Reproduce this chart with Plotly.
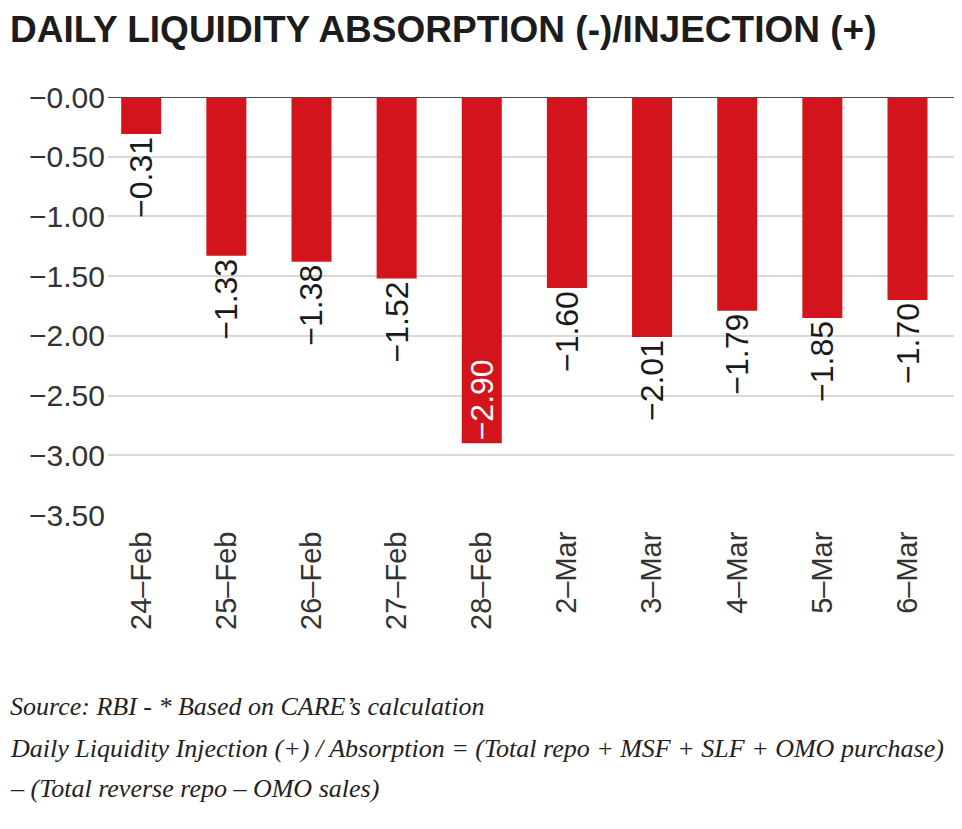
import plotly.graph_objects as go

categories = ["24–Feb", "25–Feb", "26–Feb", "27–Feb", "28–Feb",
              "2–Mar", "3–Mar", "4–Mar", "5–Mar", "6–Mar"]
values = [-0.31, -1.33, -1.38, -1.52, -2.90, -1.60, -2.01, -1.79, -1.85, -1.70]
y_tickvals = [0, -0.5, -1.0, -1.5, -2.0, -2.5, -3.0, -3.5]
y_ticktext = ["−0.00", "−0.50", "−1.00", "−1.50", "−2.00", "−2.50", "−3.00", "−3.50"]

title_text = "DAILY LIQUIDITY ABSORPTION (-)/INJECTION (+)"
note_lines = [
    "Source: RBI - * Based on CARE’s calculation",
    "Daily Liquidity Injection (+) / Absorption = (Total repo + MSF + SLF + OMO purchase)",
    "– (Total reverse repo – OMO sales)",
]

label_text = [f"{v:.2f}".replace("-", "−") for v in values]
inside_idx = values.index(min(values))
positions = ["inside" if i == inside_idx else "outside" for i in range(len(values))]

SANS = "Liberation Sans, Arial, sans-serif"

# The page body adds an 8px offset, so the figure is 8px smaller than the window.
W, H = 954, 821
L, T, B = 100, 89, 314

fig = go.Figure()
fig.add_trace(go.Bar(
    x=list(range(len(categories))),
    y=values,
    width=0.47,
    marker=dict(color="#d4141c", line=dict(width=0)),
    text=label_text,
    textposition=positions,
    insidetextanchor="end",
    textangle=-90,
    constraintext="none",
    cliponaxis=False,
    outsidetextfont=dict(family=SANS, size=32, color="#1a1a1a"),
    insidetextfont=dict(family=SANS, size=32, color="white"),
    showlegend=False,
    hoverinfo="skip",
))

fig.update_layout(
    width=W, height=H,
    paper_bgcolor="white", plot_bgcolor="white",
    margin=dict(l=L, r=0, t=T, b=B, autoexpand=False),
    xaxis=dict(
        range=[-0.39, 9.64],
        tickmode="array",
        tickvals=list(range(len(categories))),
        ticktext=categories,
        tickangle=-90,
        ticks="outside", ticklen=4, tickcolor="rgba(0,0,0,0)",
        tickfont=dict(family=SANS, size=29, color="#333333"),
        showgrid=False, zeroline=False, showline=False,
    ),
    yaxis=dict(
        range=[-3.5, 0],
        tickmode="array",
        tickvals=y_tickvals,
        ticktext=y_ticktext,
        tickfont=dict(family=SANS, size=30, color="#333333"),
        showgrid=True, gridcolor="#d9d9d9", gridwidth=2,
        zeroline=False, showline=False,
        ticklabelstandoff=2,
    ),
    shapes=[dict(type="line", xref="paper", yref="y", x0=0, x1=1, y0=0, y1=0,
                 line=dict(color="#4d4d4d", width=2), layer="above")],
)

fig.add_annotation(
    text=title_text, xref="paper", yref="paper", x=-L / (W - L), y=1.0, yshift=T + 1,
    xanchor="left", yanchor="top", showarrow=False,
    font=dict(family=SANS, size=37, color="#1c1c1c", weight="bold"),
)

note_font = dict(family="Liberation Serif, Times New Roman, serif", size=26,
                 color="#222222", style="italic")
note_y = [723, 765, 805]
for line, yb in zip(note_lines, note_y):
    fig.add_annotation(
        text=line, xref="paper", yref="paper",
        x=-L / (W - L), y=0, yshift=-(yb - 515),
        xanchor="left", yanchor="bottom", showarrow=False,
        font=note_font,
    )

fig.write_html("out.html")
